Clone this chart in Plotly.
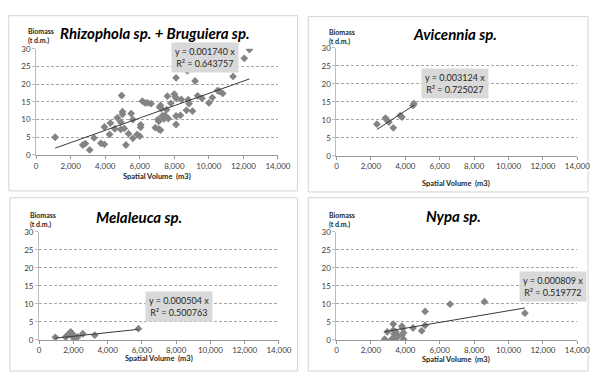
import plotly.graph_objects as go

W, H = 605, 377

# ---- data ----
rhizo_x = [1100, 2700, 2850, 3100, 3350, 3750, 3950, 3950, 4250, 4300, 4550, 4700, 4900, 5000, 5000, 4950,
           4900, 5100, 5200, 5350, 5500, 5600, 5600, 5850, 6000, 6050, 6050, 6150, 6300, 6450, 6650, 6900,
           7050, 7100, 7100, 7200, 7150, 7250, 7200, 7300, 7400, 7450, 7550, 7600, 7650, 7800, 8000, 8050,
           8100, 8100, 8100, 8100, 8350, 8400, 8700, 8750, 8800, 8850, 9050, 9200, 9350, 9600, 10000, 10200,
           10500, 10600, 10800, 11400, 12050, 12350]
rhizo_y = [5.0, 2.8, 3.2, 1.4, 4.8, 3.3, 3.0, 7.9, 5.8, 9.0, 7.4, 10.5, 9.3, 11.5, 12.2, 16.8,
           7.2, 7.5, 2.8, 6.0, 11.7, 10.0, 4.7, 5.8, 5.3, 8.5, 7.8, 15.2, 14.7, 14.7, 14.5, 7.7,
           10.0, 9.5, 7.3, 14.0, 13.5, 13.1, 7.0, 11.0, 10.2, 11.2, 12.8, 16.6, 10.3, 14.6, 17.2, 16.5,
           16.0, 21.8, 11.0, 8.6, 11.2, 15.7, 12.6, 23.8, 15.6, 14.5, 12.4, 20.9, 16.7, 16.0, 14.7, 16.2,
           18.2, 18.0, 17.4, 22.2, 27.3, 29.8]
rhizo_slope = 0.001740
rhizo_r2 = 0.643757

avi_x = [2350, 2850, 2950, 3050, 3300, 3700, 3800, 4450, 4500]
avi_y = [8.8, 10.5, 9.8, 9.4, 7.8, 11.2, 10.8, 14.0, 14.5]
avi_slope = 0.003124
avi_r2 = 0.725027

mela_x = [950, 1550, 1650, 1750, 1850, 1900, 1950, 2000, 2050, 2150, 2250, 2550, 3250, 5800]
mela_y = [0.7, 0.8, 1.2, 1.7, 2.2, 1.9, 1.5, 0.6, 1.0, 0.7, 0.8, 1.7, 1.3, 3.1]
mela_slope = 0.000504
mela_r2 = 0.500763

nypa_x = [2800, 2950, 3200, 3300, 3300, 3350, 3400, 3450, 3500, 3550, 3800, 3850, 3800, 3900, 3900,
          4450, 4950, 5150, 5150, 6600, 8600, 10950]
nypa_y = [0.2, 2.2, 0.1, 4.4, 2.7, 1.6, 1.0, 2.2, 0.5, 1.3, 3.8, 3.2, 1.3, 0.2, 2.0,
          3.3, 2.5, 7.9, 4.0, 9.9, 10.6, 7.4]
nypa_slope = 0.000809
nypa_r2 = 0.519772

titles = ["Rhizophola sp. + Bruguiera sp.", "Avicennia sp.", "Melaleuca sp.", "Nypa sp."]
x_ticks = [0, 2000, 4000, 6000, 8000, 10000, 12000, 14000]
y_ticks = [0, 5, 10, 15, 20, 25, 30]
x_title = "Spatial Volume  (m3)"
y_title = "Biomass<br>(t d.m.)"

series = [
    (rhizo_x, rhizo_y, rhizo_slope, rhizo_r2),
    (avi_x, avi_y, avi_slope, avi_r2),
    (mela_x, mela_y, mela_slope, mela_r2),
    (nypa_x, nypa_y, nypa_slope, nypa_r2),
]

# ---- layout in pixels ----
plot_px = [  # x0, x1, ytop, ybottom
    (35, 283, 45, 154),
    (343, 590, 44, 155),
    (38, 284, 233, 344),
    (343, 590, 233, 344),
]
frame_px = [
    (7, 303, 11, 191),
    (314, 601, 12, 192),
    (8, 303, 198, 376),
    (314, 601, 198, 376),
]
title_px = [(157, 29), (465, 30), (140, 218), (463, 217)]
ylab_px = [(25, 21), (333, 22), (27, 210), (333, 210)]
xlab_px = [(159, 176), (466, 183), (161, 363), (466, 364)]
box_px = [(208, 54), (465, 81), (182, 310), (565, 289)]

FONT = "Lato, 'Open Sans', sans-serif"
fig = go.Figure()
shapes, annotations = [], []

def px2fx(v):
    return v / W

def px2fy(v):
    return 1 - v / H

for i, (xs, ys, slope, r2) in enumerate(series):
    n = i + 1
    xa = "x" if n == 1 else f"x{n}"
    ya = "y" if n == 1 else f"y{n}"
    fig.add_trace(go.Scatter(
        x=xs, y=ys, mode="markers", xaxis=xa, yaxis=ya,
        marker=dict(symbol="diamond", size=6, color="#848484", line=dict(width=0)),
        showlegend=False, hoverinfo="skip"))
    lx = [min(xs), max(xs)]
    fig.add_trace(go.Scatter(
        x=lx, y=[slope * v for v in lx], mode="lines", xaxis=xa, yaxis=ya,
        line=dict(color="#3a3a3a", width=1), showlegend=False, hoverinfo="skip"))

    x0, x1, yt, yb = plot_px[i]
    axkey = "xaxis" if n == 1 else f"xaxis{n}"
    aykey = "yaxis" if n == 1 else f"yaxis{n}"
    fig.update_layout(**{
        axkey: dict(domain=[px2fx(x0), px2fx(x1)], range=[0, 14000], anchor=ya,
                    tickvals=x_ticks, tickformat=",d", showgrid=False, zeroline=False,
                    showline=True, linecolor="#9a9a9a", linewidth=1,
                    ticks="outside", ticklen=3, tickcolor="#9a9a9a",
                    tickfont=dict(family=FONT, size=8, color="#404040")),
        aykey: dict(domain=[px2fy(yb), px2fy(yt)], range=[0, 30], anchor=xa,
                    tickvals=y_ticks, showgrid=True, gridcolor="#a6a6a6", griddash="3px,2px",
                    gridwidth=1, zeroline=False,
                    showline=True, linecolor="#bdbdbd", linewidth=1,
                    ticks="outside", ticklen=3, tickcolor="#bdbdbd",
                    tickfont=dict(family=FONT, size=8, color="#404040")),
    })

    fx0, fx1, fy0, fy1 = frame_px[i]
    shapes.append(dict(type="rect", xref="paper", yref="paper",
                       x0=px2fx(fx0), x1=px2fx(fx1), y0=px2fy(fy1), y1=px2fy(fy0),
                       line=dict(color="#d4d4d4", width=1), fillcolor="rgba(0,0,0,0)", layer="below"))

    tx, ty = title_px[i]
    annotations.append(dict(xref="paper", yref="paper", x=px2fx(tx), y=px2fy(ty),
                            text=f"<b><i>{titles[i]}</i></b>", showarrow=False,
                            xanchor="center", yanchor="middle",
                            font=dict(family=FONT, size=15, color="#000000")))
    lx_, ly_ = ylab_px[i]
    annotations.append(dict(xref="paper", yref="paper", x=px2fx(lx_), y=px2fy(ly_),
                            text=f"<b>{y_title}</b>", showarrow=False, align="left",
                            xanchor="left", yanchor="top",
                            font=dict(family=FONT, size=7, color="#262626")))
    xx, xy = xlab_px[i]
    annotations.append(dict(xref="paper", yref="paper", x=px2fx(xx), y=px2fy(xy),
                            text=f"<b>{x_title}</b>", showarrow=False,
                            xanchor="center", yanchor="middle",
                            font=dict(family=FONT, size=7.5, color="#262626")))
    bx, by = box_px[i]
    annotations.append(dict(xref="paper", yref="paper", x=px2fx(bx), y=px2fy(by),
                            text=f"y = {slope:.6f} x<br>R² = {r2:.6f}", showarrow=False,
                            xanchor="center", yanchor="middle", align="center",
                            bgcolor="#d9d9d9", borderpad=3,
                            font=dict(family=FONT, size=9, color="#262626")))

fig.update_layout(width=W, height=H, autosize=False,
                  margin=dict(l=0, r=0, t=0, b=0),
                  paper_bgcolor="white", plot_bgcolor="white",
                  shapes=shapes, annotations=annotations)

fig.write_html("out.html", config={"displayModeBar": False, "staticPlot": True},
               post_script="document.body.style.margin='0';document.body.style.overflow='hidden';")
